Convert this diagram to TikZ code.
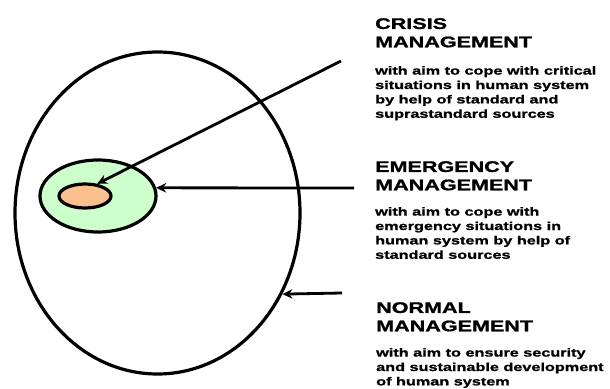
\documentclass[tikz,border=0pt]{standalone}
\usepackage{fontspec}
\newfontfamily\lab[FakeStretch=1.4,FakeBold=1.2]{Liberation Sans Bold}
\usetikzlibrary{arrows.meta,shapes.geometric}
\definecolor{lgreen}{RGB}{204,255,204}
\definecolor{lorange}{RGB}{250,192,144}
\begin{document}
\begin{tikzpicture}[x=1pt,y=-1pt,
  ring/.style={ellipse,draw=black,line width=3.2pt,inner sep=0pt},
  arr/.style={line width=2.8pt,-{Stealth[length=10pt,width=9.5pt]}},
  ttl/.style={anchor=north west,inner sep=0pt,align=left,font=\lab\fontsize{15.4}{18.3}\selectfont},
  bdy/.style={anchor=north west,inner sep=0pt,align=left,font=\lab\fontsize{11.6}{14.4}\selectfont}]
\useasboundingbox (0,0) rectangle (610,388);
\fill[white] (0,0) rectangle (610,388);
% shapes
\node[ring,minimum width=285pt,minimum height=322pt] (big) at (157.5,213) {};
\node[ring,fill=lgreen,minimum width=116pt,minimum height=72pt] (green) at (98,196) {};
\node[ring,fill=lorange,minimum width=52pt,minimum height=24pt] (orange) at (85,196) {};
% arrow starts
\coordinate (cs) at (341,61);
\coordinate (es) at (354,188);
\coordinate (ns) at (342,293);
\draw[arr] (cs) -- (orange.45);
\draw[arr] (es) -- (green.8);
\draw[arr] (ns) -- (big.-33);
% texts
\node[ttl] (ct) at (375,18) {CRISIS\\MANAGEMENT};
\node[bdy] (cb) at (375,66) {with aim to cope with critical\\situations in human system\\by help of standard and\\suprastandard sources};
\node[ttl] (et) at (375,161) {EMERGENCY\\MANAGEMENT};
\node[bdy] (eb) at (375,207) {with aim to cope with\\emergency situations in\\human system by help of\\standard sources};
\node[ttl] (nt) at (376,302) {NORMAL\\MANAGEMENT};
\node[bdy] (nb) at (376,348) {with aim to ensure security\\and sustainable development\\of human system};
\end{tikzpicture}
\end{document}
